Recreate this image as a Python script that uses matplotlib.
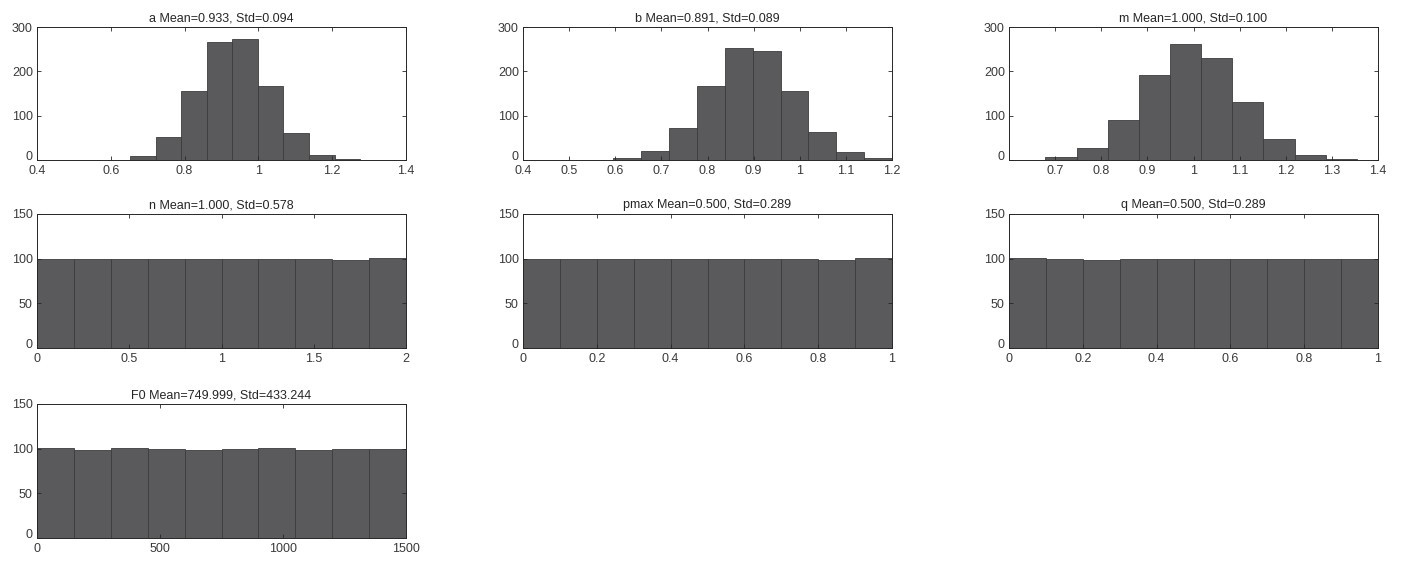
import numpy as np
import matplotlib
matplotlib.use("Agg")
import matplotlib.pyplot as plt
from matplotlib.transforms import ScaledTranslation

plt.rcParams['font.family'] = ['Liberation Sans', 'DejaVu Sans']

# bin edges (min, max of each sample set, 10 bins) and counts per bin
a_edges = np.linspace(0.5835, 1.2755, 11)
a_counts = [1, 10, 53, 155, 267, 273, 166, 60, 12, 3]

b_edges = np.linspace(0.596, 1.2, 11)
b_counts = [4, 20, 72, 167, 252, 245, 155, 63, 18, 4]

m_edges = np.linspace(0.679, 1.354, 11)
m_counts = [7, 26, 91, 192, 261, 230, 131, 48, 11, 3]

n_edges = np.linspace(0, 2, 11)
n_counts = [100, 100, 100, 100, 100, 100, 100, 100, 99, 101]

pmax_edges = np.linspace(0, 1, 11)
pmax_counts = [100, 100, 100, 100, 100, 100, 100, 100, 99, 101]

q_edges = np.linspace(0, 1, 11)
q_counts = [101, 100, 99, 100, 100, 100, 100, 100, 100, 100]

F0_edges = np.linspace(0, 1500, 11)
F0_counts = [101, 99, 101, 100, 99, 100, 101, 99, 100, 100]

titles = ['a Mean=0.933, Std=0.094', 'b Mean=0.891, Std=0.089',
          'm Mean=1.000, Std=0.100', 'n Mean=1.000, Std=0.578',
          'pmax Mean=0.500, Std=0.289', 'q Mean=0.500, Std=0.289',
          'F0 Mean=749.999, Std=433.244']
edges_list = [a_edges, b_edges, m_edges, n_edges, pmax_edges, q_edges, F0_edges]
counts_list = [a_counts, b_counts, m_counts, n_counts, pmax_counts, q_counts, F0_counts]

xlims = [(0.4, 1.4), (0.4, 1.2), (0.6, 1.4), (0, 2), (0, 1), (0, 1), (0, 1500)]
xticks = [np.arange(0.4, 1.41, 0.2), np.arange(0.4, 1.21, 0.1),
          np.arange(0.7, 1.41, 0.1), [0, 0.5, 1, 1.5, 2],
          np.arange(0, 1.01, 0.2), np.arange(0, 1.01, 0.2), [0, 500, 1000, 1500]]
ylims = [300, 300, 300, 150, 150, 150, 150]
yticks = [[0, 100, 200, 300]] * 3 + [[0, 50, 100, 150]] * 4

W, H = 1405, 562
fig = plt.figure(figsize=(W / 100, H / 100), dpi=100)

col_left = [37, 523, 1009]
row_span = [(27, 160), (214, 348), (404, 538)]
ax_w = 369

for i in range(7):
    r, c = divmod(i, 3)
    top, bot = row_span[r]
    ax = fig.add_axes([col_left[c] / W, (H - bot) / H, ax_w / W, (bot - top) / H])
    e = edges_list[i]
    ax.bar(e[:-1], counts_list[i], width=np.diff(e), align='edge',
           color='#5a5a5c', edgecolor='#3c3c3c', linewidth=0.6)
    ax.set_xlim(*xlims[i])
    ax.set_ylim(0, ylims[i])
    ax.set_xticks(xticks[i])
    ax.set_xticklabels([('%g' % round(v, 2)) for v in xticks[i]])
    ax.set_yticks(yticks[i])
    ax.tick_params(direction='in', top=True, right=True, length=3, width=0.6,
                   labelsize=9, colors='#262626', labelcolor='#3a3a3a')
    ax.tick_params(axis='x', pad=3.5)
    ax.tick_params(axis='y', pad=3)
    # lift the corner "0" so it clears the first x label
    zero = ax.get_yticklabels()[0]
    zero.set_transform(zero.get_transform() + ScaledTranslation(0, 3 / 72, fig.dpi_scale_trans))
    for sp in ax.spines.values():
        sp.set_color('#262626')
        sp.set_linewidth(0.7)
    ax.set_title(titles[i], fontsize=9, color='#262626', pad=4)

fig.savefig('out.png', dpi=100)
